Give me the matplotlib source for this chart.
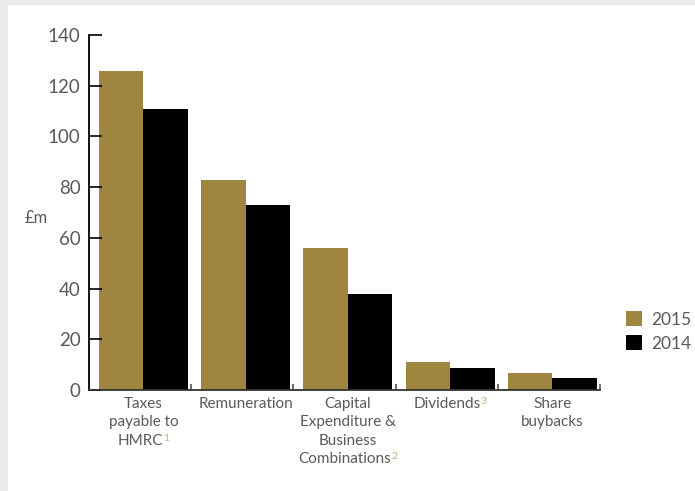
import matplotlib
matplotlib.use("Agg")
import matplotlib.pyplot as plt
from matplotlib.offsetbox import TextArea, HPacker, VPacker, AnnotationBbox
from matplotlib.patches import Rectangle

categories = [["Taxes", "payable to", "HMRC"], ["Remuneration"],
              ["Capital", "Expenditure &", "Business", "Combinations"],
              ["Dividends"], ["Share", "buybacks"]]
footnotes = ["1", "", "2", "3", ""]
values_2015 = [126, 83, 56, 11, 6.7]
values_2014 = [111, 73, 38, 8.7, 4.7]
series_names = ["2015", "2014"]
yticks = [0, 20, 40, 60, 80, 100, 120, 140]

GOLD = "#a08540"
NOTE = "#c9ad7c"
TXT = "#5a5a5a"
FONT = ["Lato", "DejaVu Sans"]
plt.rcParams["font.family"] = FONT

W, H = 695, 491
fig = plt.figure(figsize=(W / 100, H / 100), dpi=100)
fig.patch.set_facecolor("white")
# grey frame strips
fig.add_artist(Rectangle((0, 1 - 5 / H), 1, 5 / H, transform=fig.transFigure, color="#ebebeb", lw=0))
fig.add_artist(Rectangle((0, 0), 8 / W, 1, transform=fig.transFigure, color="#ebebeb", lw=0))

ax = fig.add_axes([89 / W, 1 - 390 / H, (600 - 89) / W, (390 - 35) / H])
n = len(values_2015)
xs = list(range(n))
bw = 0.435
ax.bar([x - bw / 2 for x in xs], values_2015, width=bw, color=GOLD, label=series_names[0])
ax.bar([x + bw / 2 for x in xs], values_2014, width=bw, color="black", label=series_names[1])

ax.set_xlim(-0.533, n - 0.533)
ax.set_ylim(0, 140)
ax.set_yticks(yticks)
ax.tick_params(axis="y", direction="in", length=9, width=1.2, colors="black",
               labelcolor=TXT, labelsize=13.5, pad=6)
ax.set_xticks([-0.533 + k for k in range(1, n + 1)])
ax.set_xticklabels([])
ax.tick_params(axis="x", direction="in", length=4, width=1.2, colors="#555555")
for s in ["top", "right"]:
    ax.spines[s].set_visible(False)
ax.spines["left"].set_linewidth(1.3)
ax.spines["bottom"].set_linewidth(1.3)
ax.spines["bottom"].set_color("#333333")
ax.set_facecolor("white")

# category labels with coloured footnotes
for i, (lines, note) in enumerate(zip(categories, footnotes)):
    rows = []
    for j, line in enumerate(lines):
        t = TextArea(line, textprops=dict(color=TXT, fontsize=11, family=FONT))
        if j == len(lines) - 1 and note:
            sup = TextArea(note, textprops=dict(color=NOTE, fontsize=7.5, family=FONT))
            rows.append(HPacker(children=[t, sup], align="top", pad=0, sep=0))
        else:
            rows.append(t)
    box = VPacker(children=rows, align="center", pad=0, sep=3.2)
    ab = AnnotationBbox(box, (i, 0), xycoords=("data", "axes fraction"),
                        xybox=(0, -5), boxcoords="offset points",
                        box_alignment=(0.5, 1), frameon=False, annotation_clip=False)
    ax.add_artist(ab)

fig.text(25 / W, 1 - 218 / H, "£m", color=TXT, fontsize=12,
         ha="left", va="center")

leg = fig.legend(loc="center left", bbox_to_anchor=(626 / W, 1 - 331.5 / H),
                 frameon=False, fontsize=12.5, handlelength=0.95, handleheight=0.95,
                 handletextpad=0.5, labelspacing=0.45, borderpad=0, borderaxespad=0)
for t in leg.get_texts():
    t.set_color(TXT)

fig.savefig("out.png", dpi=100)
